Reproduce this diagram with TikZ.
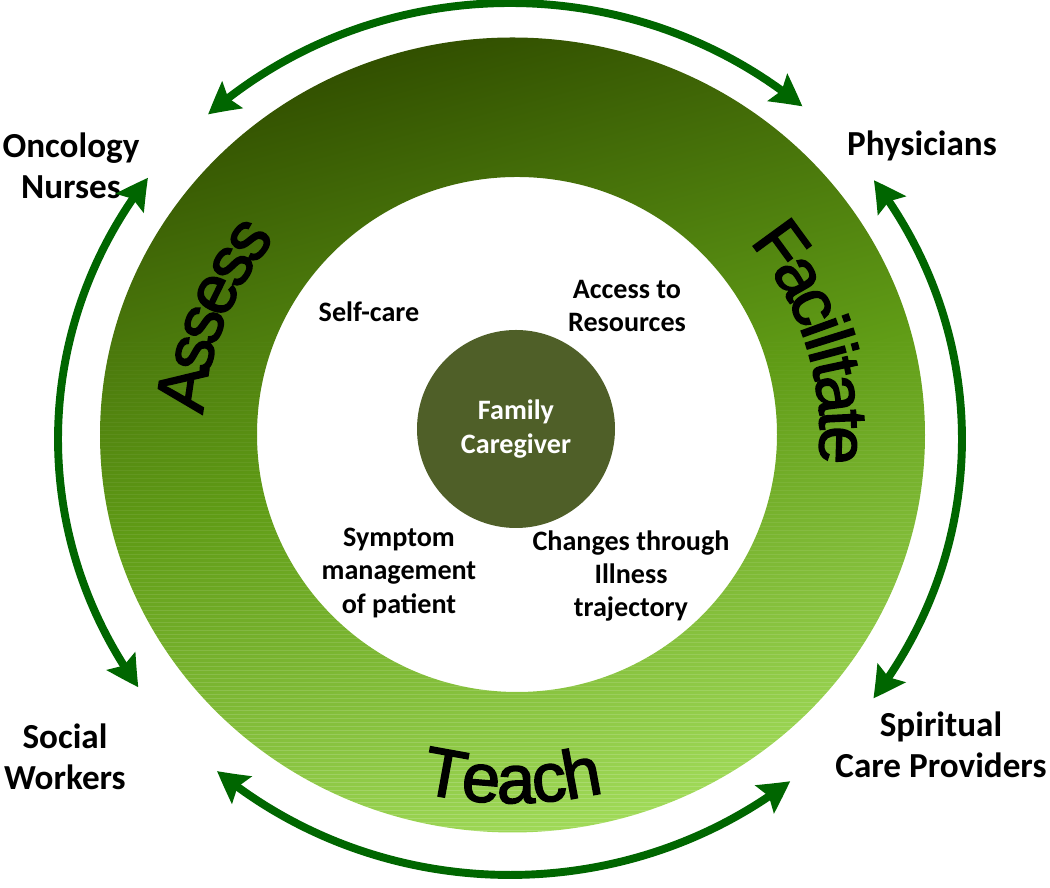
\documentclass[tikz,border=0pt]{standalone}
\usepackage{fontspec}
\setmainfont{Carlito}
\newfontfamily\arialfont{Liberation Sans}
\usetikzlibrary{arrows.meta,bending,decorations.text}
\definecolor{ringdark}{RGB}{50,80,0}
\definecolor{ringmid}{RGB}{96,156,22}
\definecolor{ringlight}{RGB}{160,218,88}
\definecolor{hub}{RGB}{79,95,40}
\colorlet{arrowgreen}{green!40!black}
\newcommand\ringfont{\arialfont\fontsize{39}{40}\selectfont\special{pdf:literal direct 2 Tr 0.9 w}}
\newcommand\outerfont{\fontsize{20}{23}\selectfont\bfseries}
\newcommand\innerfont{\fontsize{16}{19}\selectfont\bfseries}

\begin{document}
\begin{tikzpicture}[twoway/.style={draw=arrowgreen,line width=4.5pt,
    {Stealth[length=0.62cm,width=0.66cm,inset=0.1cm,bend]}-{Stealth[length=0.62cm,width=0.66cm,inset=0.1cm,bend]}}]%
        \useasboundingbox (0,0) rectangle (21,17.76);%%
        \coordinate (rc) at (10.25,9.06); %% ring centre
        \coordinate (ic) at (10.34,9.07); %% hole centre
        \coordinate (ac) at (10.2,8.98); %% arrow centre
        \shade[even odd rule,top color=ringdark,bottom color=ringlight,middle color=ringmid,shading angle=15]
          (rc) ellipse [x radius=8.25cm,y radius=7.95cm] (ic) ellipse [x radius=5.2cm,y radius=5.15cm];%%
        \begin{scope}[even odd rule]
        \clip (rc) ellipse [x radius=8.25cm,y radius=7.95cm] (ic) ellipse [x radius=5.2cm,y radius=5.15cm];%%
        \foreach \y [evaluate=\y as \op using {0.2-0.017*\y}] in {1.0,1.08,...,11.0}
          \draw[white,opacity=\op,line width=.5pt] (1.5,\y) -- (19,\y); %% stripes
        \end{scope}
        \begin{scope}[align=center]
        \tikzstyle{every node}=[font=\outerfont] %%
        \node (onc) at (1.42,14.44) {Oncology\\Nurses}; %%
        \node (phys) at (18.44,14.84) {Physicians}; %%
        \node (soc) at (1.3,2.62) {Social\\Workers}; %%
        \node (spir) at (18.82,2.86) {Spiritual\\Care Providers}; %%
        \end{scope}
        \begin{scope}[align=center]
        \tikzstyle{every node}=[font=\innerfont] %%
        \node (self) at (7.38,11.52) {Self-care}; %%
        \node (acc) at (12.54,11.64) {Access to\\Resources}; %%
        \node (sym) at (7.98,6.30) {Symptom\\management\\of patient}; %%
        \node (chg) at (12.62,6.24) {Changes through\\Illness\\trajectory}; %%
        \node[circle,fill=hub,minimum size=3.96cm,text=white] (fam) at (10.32,9.18) {Family\\Caregiver}; %%
        \end{scope}
\draw[twoway] (ac) ++(49.7:9.04cm and 8.72cm) arc[start angle=49.7,end angle=131.9,x radius=9.04cm,y radius=8.72cm]; %%
\draw[twoway] (ac) ++(36.4:9.04cm and 8.72cm) arc[start angle=36.4,end angle=-36.5,x radius=9.04cm,y radius=8.72cm]; %%
\draw[twoway] (ac) ++(-51.7:9.04cm and 8.72cm) arc[start angle=-51.7,end angle=-130.4,x radius=9.04cm,y radius=8.72cm]; %%
\draw[twoway] (ac) ++(143.2:9.04cm and 8.72cm) arc[start angle=143.2,end angle=214.7,x radius=9.04cm,y radius=8.72cm]; %%
        \path[decorate,decoration={text along path,text align=center,raise=.3cm,text={|\ringfont|Teach}}]
          (rc) ++(-125:7.96cm and 7.66cm) arc[start angle=-125,end angle=-55,x radius=7.96cm,y radius=7.66cm];%%
        \path[decorate,decoration={text along path,text align=center,raise=-1.08cm,text={|\ringfont|Assess}}]
          (rc) ++(200:7.28cm and 7.18cm) arc[start angle=200,end angle=116,x radius=7.28cm,y radius=7.18cm];%%
        \path[decorate,decoration={text along path,text align=center,raise=-1.08cm,text={|\ringfont|Facilitate}}]
          (rc) ++(67:7.23cm and 7.13cm) arc[start angle=67,end angle=-33,x radius=7.23cm,y radius=7.13cm];%%
\end{tikzpicture}
\end{document}
